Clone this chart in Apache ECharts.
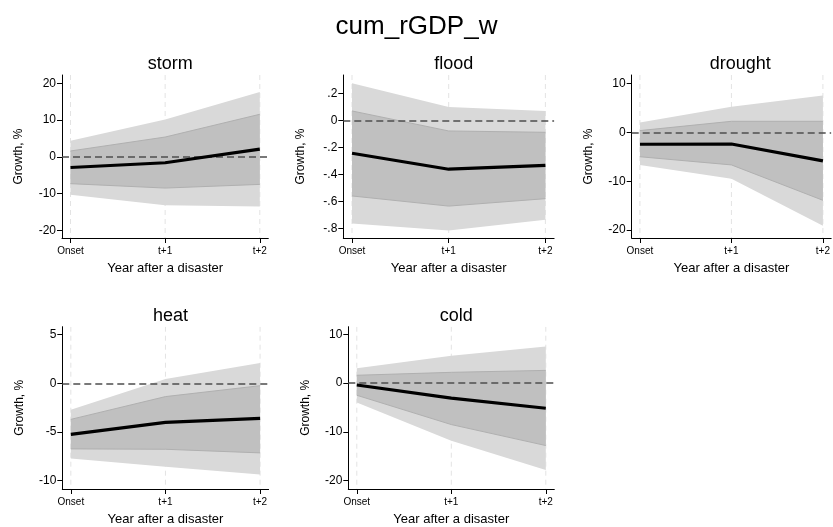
<!DOCTYPE html>
<html>
<head>
<meta charset="utf-8">
<script src="https://cdn.jsdelivr.net/npm/echarts@6/dist/echarts.min.js"></script>
<style>html,body{margin:0;padding:0;background:#fff}#c{width:833px;height:527px}</style>
</head>
<body>
<div id="c"></div>
<script>
// ---- data ----
const steps = [0, 1, 2];
const stepLabels = ['Onset', 't+1', 't+2'];
const panelNames = ['storm', 'flood', 'drought', 'heat', 'cold'];

const stormLine = [-2.9, -1.6, 2.1];
const stormInnerLo = [-7.3, -8.5, -7.5];
const stormInnerHi = [1.6, 5.4, 11.6];
const stormOuterLo = [-10.3, -13.2, -13.5];
const stormOuterHi = [4.4, 10.2, 17.7];

const floodLine = [-0.244, -0.362, -0.333];
const floodInnerLo = [-0.56, -0.635, -0.58];
const floodInnerHi = [0.069, -0.079, -0.089];
const floodOuterLo = [-0.763, -0.815, -0.736];
const floodOuterHi = [0.274, 0.099, 0.069];

const droughtLine = [-2.45, -2.4, -5.85];
const droughtInnerLo = [-5.0, -6.67, -13.9];
const droughtInnerHi = [0.34, 2.24, 2.24];
const droughtOuterLo = [-6.7, -9.5, -19.1];
const droughtOuterHi = [2.0, 5.2, 7.5];

const heatLine = [-5.24, -4.0, -3.6];
const heatInnerLo = [-6.73, -6.77, -7.14];
const heatInnerHi = [-3.7, -1.36, -0.24];
const heatOuterLo = [-7.72, -8.57, -9.35];
const heatOuterHi = [-2.7, 0.44, 2.1];

const coldLine = [-0.4, -3.1, -5.15];
const coldInnerLo = [-2.5, -8.5, -12.8];
const coldInnerHi = [1.6, 2.2, 2.6];
const coldOuterLo = [-4.0, -11.8, -17.8];
const coldOuterHi = [3.05, 5.6, 7.5];

const stormTicks = [-20, -10, 0, 10, 20];
const stormTickLabels = ['-20', '-10', '0', '10', '20'];
const floodTicks = [-0.8, -0.6, -0.4, -0.2, 0, 0.2];
const floodTickLabels = ['-.8', '-.6', '-.4', '-.2', '0', '.2'];
const droughtTicks = [-20, -10, 0, 10];
const droughtTickLabels = ['-20', '-10', '0', '10'];
const heatTicks = [-10, -5, 0, 5];
const heatTickLabels = ['-10', '-5', '0', '5'];
const coldTicks = [-20, -10, 0, 10];
const coldTickLabels = ['-20', '-10', '0', '10'];

// ---- layout ----
const FONT = '"Liberation Sans", Arial, Helvetica, sans-serif';
const panels = [
  {line: stormLine, iLo: stormInnerLo, iHi: stormInnerHi, oLo: stormOuterLo, oHi: stormOuterHi,
   ticks: stormTicks, labels: stormTickLabels, ymin: -22.1, ymax: 22.3,
   left: 62, top: 75, width: 206.3, height: 163},
  {line: floodLine, iLo: floodInnerLo, iHi: floodInnerHi, oLo: floodOuterLo, oHi: floodOuterHi,
   ticks: floodTicks, labels: floodTickLabels, ymin: -0.871, ymax: 0.335,
   left: 343.3, top: 75, width: 210.8, height: 163},
  {line: droughtLine, iLo: droughtInnerLo, iHi: droughtInnerHi, oLo: droughtOuterLo, oHi: droughtOuterHi,
   ticks: droughtTicks, labels: droughtTickLabels, ymin: -21.6, ymax: 11.7,
   left: 631.7, top: 75, width: 207, height: 163},
  {line: heatLine, iLo: heatInnerLo, iHi: heatInnerHi, oLo: heatOuterLo, oHi: heatOuterHi,
   ticks: heatTicks, labels: heatTickLabels, ymin: -10.85, ymax: 5.82,
   left: 62.3, top: 326.7, width: 206.3, height: 163.3},
  {line: coldLine, iLo: coldInnerLo, iHi: coldInnerHi, oLo: coldOuterLo, oHi: coldOuterHi,
   ticks: coldTicks, labels: coldTickLabels, ymin: -21.7, ymax: 11.55,
   left: 348.3, top: 326.7, width: 206, height: 163.3}
];
const XM = 0.09;

const grids = [], xAxes = [], yAxes = [], series = [], titles = [];
titles.push({text: 'cum_rGDP_w', left: 'center', top: 9,
  textStyle: {fontFamily: FONT, fontSize: 26, fontWeight: 'normal', color: '#000'}});

function bandSeries(i, lo, hi, fill, stroke, z) {
  return {
    type: 'custom', xAxisIndex: i, yAxisIndex: i, z: z, silent: true, clip: true,
    data: [[0, 0]],
    renderItem: (params, api) => {
      const upper = steps.map((s, k) => api.coord([s, hi[k]]));
      const lower = steps.map((s, k) => api.coord([s, lo[k]])).reverse();
      const children = [{type: 'polygon', shape: {points: upper.concat(lower)},
        style: {fill: fill, stroke: 'none'}}];
      if (stroke) {
        children.push({type: 'polyline', shape: {points: upper}, style: {stroke: stroke, lineWidth: 1, fill: 'none'}});
        children.push({type: 'polyline', shape: {points: lower}, style: {stroke: stroke, lineWidth: 1, fill: 'none'}});
      }
      return {type: 'group', children: children};
    }
  };
}

function gridLineSeries(i, ymin, ymax) {
  return {
    type: 'custom', xAxisIndex: i, yAxisIndex: i, z: 1, silent: true, clip: true,
    data: steps.map(s => [s, 0]),
    renderItem: (params, api) => {
      const x = api.value(0);
      const a = api.coord([x, ymax]);
      const b = api.coord([x, ymin]);
      return {type: 'line', shape: {x1: a[0], y1: a[1], x2: b[0], y2: b[1]},
        style: {stroke: '#e3e3e3', lineWidth: 1, lineDash: [5, 4]}};
    }
  };
}

panels.forEach((p, i) => {
  grids.push({left: p.left, top: p.top, width: p.width, height: p.height, containLabel: false});
  titles.push({text: panelNames[i], left: p.left + p.width / 2, top: p.top - 25, textAlign: 'center',
    textStyle: {fontFamily: FONT, fontSize: 18, fontWeight: 'normal', color: '#000'}});
  xAxes.push({
    type: 'value', gridIndex: i, min: -XM, max: 2 + XM,
    name: 'Year after a disaster', nameLocation: 'middle', nameGap: 24,
    nameTextStyle: {fontFamily: FONT, fontSize: 13, color: '#000'},
    axisLine: {show: true, onZero: false, lineStyle: {color: '#000', width: 1}},
    axisTick: {show: true, length: 5, customValues: steps, lineStyle: {color: '#000'}},
    axisLabel: {customValues: steps, margin: 8, fontFamily: FONT, fontSize: 10, color: '#000',
      formatter: v => stepLabels[steps.indexOf(Math.round(v))] || ''},
    splitLine: {show: false}
  });
  yAxes.push({
    type: 'value', gridIndex: i, min: p.ymin, max: p.ymax,
    name: 'Growth, %', nameLocation: 'middle', nameGap: 37,
    nameTextStyle: {fontFamily: FONT, fontSize: 12, color: '#000'},
    axisLine: {show: true, onZero: false, lineStyle: {color: '#000', width: 1}},
    axisTick: {show: true, length: 5, customValues: p.ticks, lineStyle: {color: '#000'}},
    axisLabel: {customValues: p.ticks, margin: 6, fontFamily: FONT, fontSize: 12, color: '#000',
      formatter: v => { const k = p.ticks.findIndex(t => Math.abs(t - v) < 1e-9); return k >= 0 ? p.labels[k] : ''; }},
    splitLine: {show: false}
  });
  const pts = arr => steps.map((s, k) => [s, arr[k]]);
  series.push(gridLineSeries(i, p.ymin, p.ymax));
  series.push(bandSeries(i, p.oLo, p.oHi, '#d9d9d9', null, 2));
  series.push(bandSeries(i, p.iLo, p.iHi, '#c0c0c0', '#b0b0b0', 3));
  // zero line
  series.push({type: 'line', xAxisIndex: i, yAxisIndex: i, data: [], z: 4, silent: true,
    markLine: {symbol: 'none', silent: true, label: {show: false},
      lineStyle: {color: '#4d4d4d', type: [7, 4], width: 1.5},
      data: [{yAxis: 0}]}});
  // main line
  series.push({type: 'line', xAxisIndex: i, yAxisIndex: i, data: pts(p.line), symbol: 'none', z: 5,
    lineStyle: {color: '#000', width: 3.2}, silent: true});
});

const chart = echarts.init(document.getElementById('c'), null, {renderer: 'canvas'});
chart.setOption({
  animation: false,
  backgroundColor: '#fff',
  title: titles,
  grid: grids,
  xAxis: xAxes,
  yAxis: yAxes,
  series: series
});
</script>
</body>
</html>
